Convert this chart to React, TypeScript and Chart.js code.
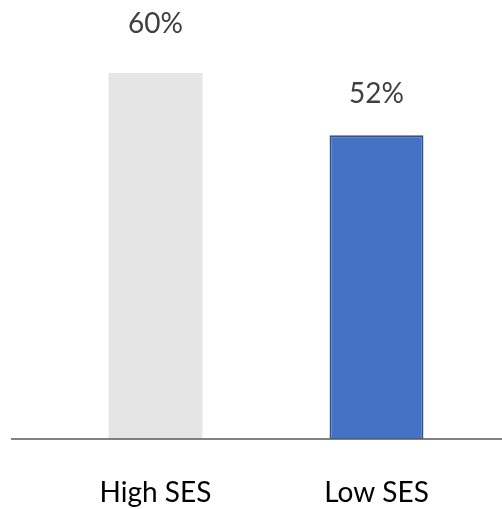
import React, { useEffect, useRef } from "react";
import { Chart, registerables } from "chart.js";

Chart.register(...registerables);

const categories = ["High SES", "Low SES"];
const values = [0.6, 0.52];
const valueLabels = ["60%", "52%"];
const barColors = ["#E5E5E5", "#4472C4"];
const borderColors = ["#E5E5E5", "#2F528F"];
const borderWidths = [0, 2];

const FONT = "Lato, 'Open Sans', sans-serif";

const valueLabelPlugin = {
  id: "valueLabels",
  afterDatasetsDraw(chart: any, _args: any, opts: any) {
    const ctx = chart.ctx;
    const meta = chart.getDatasetMeta(0);
    const gaps: number[] = opts.gaps || [];
    ctx.save();
    ctx.fillStyle = "#404040";
    ctx.font = `28px ${FONT}`;
    ctx.textAlign = "center";
    ctx.textBaseline = "alphabetic";
    meta.data.forEach((bar: any, i: number) => {
      ctx.fillText(valueLabels[i], bar.x, bar.y - (gaps[i] ?? 36));
    });
    ctx.restore();
  },
};

const baselinePlugin = {
  id: "baseline",
  afterDatasetsDraw(chart: any) {
    const ctx = chart.ctx;
    const y = chart.scales.y.getPixelForValue(chart.scales.y.min);
    ctx.save();
    ctx.strokeStyle = "#595959";
    ctx.lineWidth = 1.5;
    ctx.beginPath();
    ctx.moveTo(11, y);
    ctx.lineTo(chart.width, y);
    ctx.stroke();
    ctx.restore();
  },
};

export default function App() {
  const ref = useRef<HTMLCanvasElement>(null);
  useEffect(() => {
    if (!ref.current) return;
    const chart = new Chart(ref.current, {
      type: "bar",
      data: {
        labels: categories,
        datasets: [
          {
            data: values,
            backgroundColor: barColors,
            borderColor: borderColors,
            borderWidth: borderWidths,
            borderSkipped: false,
            categoryPercentage: 1,
            barPercentage: 0.425,
          },
        ],
      },
      options: {
        animation: false,
        responsive: false,
        maintainAspectRatio: false,
        layout: { padding: { top: 73, left: 45, right: 15, bottom: 0 } },
        plugins: {
          legend: { display: false },
          tooltip: { enabled: false },
          valueLabels: { gaps: [40, 32] },
        } as any,
        scales: {
          x: {
            type: "category",
            offset: true,
            grid: { display: false, drawTicks: false },
            border: { display: false },
            ticks: {
              color: "#000000",
              font: { family: FONT, size: 28 },
              padding: 37,
            },
            afterFit(scale: any) {
              scale.height = 70;
            },
          },
          y: {
            min: 0.13,
            max: 0.6,
            display: false,
          },
        },
      },
      plugins: [valueLabelPlugin, baselinePlugin],
    });
    return () => chart.destroy();
  }, []);
  return (
    <div style={{ position: "fixed", left: 0, top: 0, width: 502, height: 509, background: "#fff" }}>
      <canvas ref={ref} width={502} height={509} style={{ display: "block" }} />
    </div>
  );
}
